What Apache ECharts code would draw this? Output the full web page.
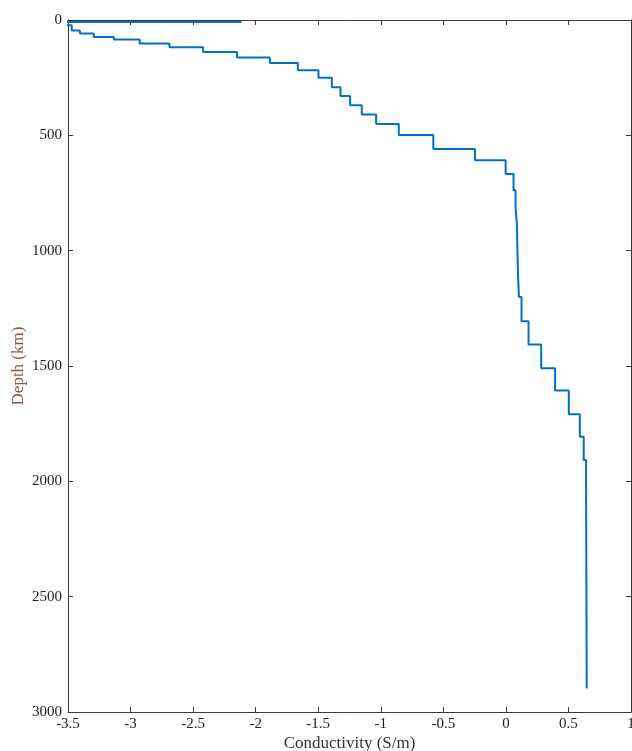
<!DOCTYPE html>
<html>
<head>
<meta charset="utf-8">
<script src="https://cdn.jsdelivr.net/npm/echarts@6/dist/echarts.min.js"></script>
<style>
  html, body { margin: 0; padding: 0; background: #fff; }
  #chart { width: 632px; height: 751px; }
</style>
</head>
<body>
<div id="chart"></div>
<script>
// Layered conductivity model: log10 conductivity per layer and layer boundaries (km)
const conductivity = [
  -2.12, -3.52, -3.47, -3.405, -3.294, -3.134, -2.927, -2.689, -2.42, -2.149,
  -1.887, -1.663, -1.498, -1.391, -1.322, -1.245, -1.152, -1.037, -0.856, -0.58,
  -0.247, -0.002, 0.061, 0.077, 0.088, 0.096, 0.104, 0.125, 0.181, 0.282,
  0.393, 0.503, 0.591, 0.622, 0.641, 0.646
];
const layerTop = [
  0, 9, 23, 45, 59, 74, 85, 102, 118, 139,
  163, 186, 218, 250, 292, 329, 370, 410, 451, 499,
  559, 608, 668, 738, 811, 887, 1092, 1201, 1306, 1407,
  1510, 1606, 1709, 1807, 1908, 2008
];
const modelBottom = 2898;

const xTicks = [-3.5, -3, -2.5, -2, -1.5, -1, -0.5, 0, 0.5, 1];
const yTicks = [0, 500, 1000, 1500, 2000, 2500, 3000];

// Staircase path: each layer contributes its top and bottom point
const path = [];
conductivity.forEach((c, i) => {
  const top = layerTop[i];
  const bottom = i + 1 < layerTop.length ? layerTop[i + 1] : modelBottom;
  path.push([c, top]);
  path.push([c, bottom]);
});

const axisColor = '#3a3a3a';
const font = '"Liberation Serif", "DejaVu Serif", serif';

const boxLine = { show: true, onZero: false, lineStyle: { color: axisColor, width: 1 } };
const inTick = { show: true, inside: true, length: 5, lineStyle: { color: axisColor } };

const chart = echarts.init(document.getElementById('chart'), null, { renderer: 'canvas' });
chart.setOption({
  animation: false,
  backgroundColor: '#ffffff',
  grid: { left: 68, right: 1, top: 20, bottom: 39, containLabel: false, outerBoundsMode: 'none' },
  xAxis: [
    {
      type: 'value', position: 'bottom',
      min: xTicks[0], max: xTicks[xTicks.length - 1], interval: 0.5,
      name: 'Conductivity (S/m)', nameLocation: 'middle', nameGap: 23, nameMoveOverlap: false,
      nameTextStyle: { fontFamily: font, fontSize: 17, color: '#333' },
      axisLine: boxLine,
      axisTick: inTick,
      axisLabel: { fontFamily: font, fontSize: 15, color: '#222', margin: 5 },
      splitLine: { show: false }
    },
    {
      type: 'value', position: 'top',
      min: xTicks[0], max: xTicks[xTicks.length - 1], interval: 0.5,
      axisLine: boxLine,
      axisTick: inTick,
      axisLabel: { show: false },
      splitLine: { show: false }
    }
  ],
  yAxis: [
    {
      type: 'value', position: 'left', inverse: true,
      min: yTicks[0], max: yTicks[yTicks.length - 1], interval: 500,
      name: 'Depth (km)', nameLocation: 'middle', nameGap: 41, nameRotate: 90, nameMoveOverlap: false,
      nameTextStyle: { fontFamily: font, fontSize: 17, color: '#8a5a44' },
      axisLine: boxLine,
      axisTick: inTick,
      axisLabel: { fontFamily: font, fontSize: 15, color: '#222', margin: 6,
                   formatter: v => String(v) },
      splitLine: { show: false }
    },
    {
      type: 'value', position: 'right', inverse: true,
      min: yTicks[0], max: yTicks[yTicks.length - 1], interval: 500,
      axisLine: boxLine,
      axisTick: inTick,
      axisLabel: { show: false },
      splitLine: { show: false }
    }
  ],
  series: [
    {
      type: 'line',
      xAxisIndex: 0, yAxisIndex: 0,
      data: path,
      showSymbol: false,
      clip: true,
      lineStyle: { color: '#0072BD', width: 2 },
      emphasis: { disabled: true }
    }
  ]
});
</script>
</body>
</html>
